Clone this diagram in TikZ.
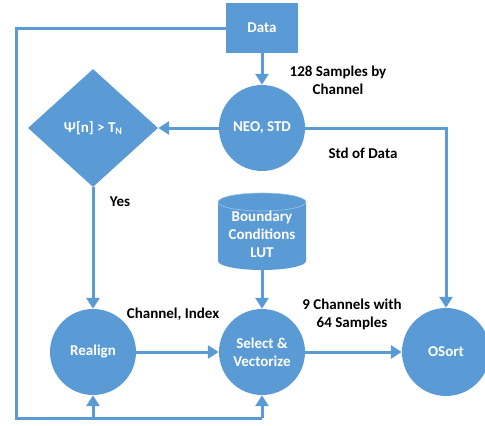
\documentclass[tikz,border=0pt]{standalone}
\usepackage{fontspec}
\setmainfont{Carlito}
\usetikzlibrary{arrows.meta,shapes.geometric}
\definecolor{ob}{HTML}{5B9BD5}
\definecolor{obl}{HTML}{9DC3E6}
\begin{document}
\begin{tikzpicture}[x=1pt,y=-1pt,
  every node/.style={font=\bfseries\fontsize{15}{18}\selectfont},
  blk/.style={fill=ob,draw=none,text=white,align=center},
  circ/.style={blk,circle,minimum size=86pt,inner sep=0pt},
  conn/.style={draw=ob,line width=3pt},
  arr/.style={conn,-{Triangle[length=11pt,width=13pt]}},
  lbl/.style={text=black,align=center}]
\useasboundingbox (0,0) rectangle (485,426);
\node[blk,minimum width=72pt,minimum height=50pt,inner sep=0pt] (data) at (262,28) {Data};
\node[circ] (neo) at (262,128) {NEO, STD};
\node[blk,diamond,minimum width=130pt,minimum height=118pt,inner sep=0pt] (dia) at (93,128) {Ψ[n] > T\raisebox{-0.35ex}{\fontsize{10}{10}\selectfont N}};
\node[circ] (real) at (93,352) {Realign};
\node[circ] (sel) at (262,352) {Select \&\\Vectorize};
\node[circ,minimum size=88pt] (os) at (446,352) {OSort};
% cylinder
\fill[ob] (218,202) -- (218,261) arc[start angle=180,end angle=360,x radius=44pt,y radius=9pt] -- (306,202) arc[start angle=0,end angle=180,x radius=44pt,y radius=9pt] -- cycle;
\draw[obl,line width=0.6pt] (262,202) ellipse[x radius=44pt,y radius=9pt];
\node[blk,fill=none,inner sep=0pt] (lut) at (262,234) {Boundary\\Conditions\\LUT};
\coordinate (lutb) at (262,270);
\coordinate (tl) at (16,28);
\coordinate (bl) at (16,418);
\coordinate (br) at (262,418);
% connectors
\draw[arr] (data.south) -- (neo.north);
\draw[arr] (neo.west) -- (dia.east);
\draw[arr] (neo.east) -| (os.north);
\draw[arr] (dia.south) -- (real.north);
\draw[arr] (lutb) -- (sel.north);
\draw[arr] (real.east) -- (sel.west);
\draw[arr] (sel.east) -- (os.west);
\draw[conn,line join=miter] (data.west) -- (tl) -- (bl) -- (br);
\draw[arr] (br) -- (sel.south);
\draw[arr] (real.south |- br) -- (real.south);
% labels
\node[lbl] (l1) at (338,80) {128 Samples by\\Channel};
\node[lbl] (l2) at (363,153) {Std of Data};
\node[lbl] (l3) at (120,202) {Yes};
\node[lbl] (l4) at (173,314) {Channel, Index};
\node[lbl] (l5) at (352,314) {9 Channels with\\64 Samples};
\end{tikzpicture}
\end{document}
